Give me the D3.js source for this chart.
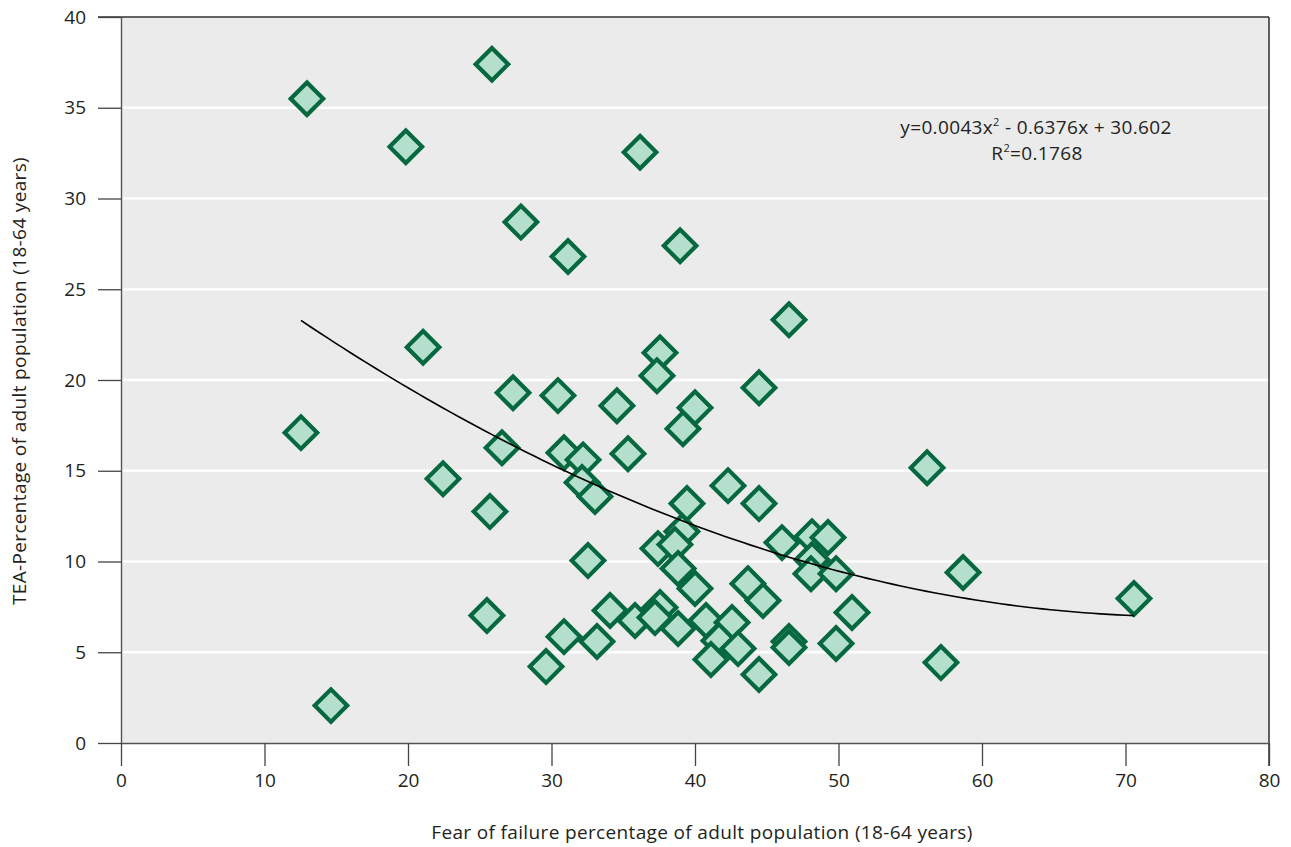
<!DOCTYPE html>
<html>
<head>
<meta charset="utf-8">
<script src="https://cdn.jsdelivr.net/npm/d3@7"></script>
<style>
  html, body { margin: 0; padding: 0; background: #ffffff; }
  svg { display: block; }
  text { font-family: "Open Sans", "Noto Sans", sans-serif; fill: #231f20; }
</style>
</head>
<body>
<svg id="chart" width="1291" height="847"></svg>
<script>
// Fear of failure rate (x) and TEA rate (y), one entry per country
const fearOfFailure = [
  12.96, 25.85, 19.85, 36.17, 27.87, 31.15, 38.96, 21.05, 46.55, 37.56,
  37.35, 27.32, 30.45, 44.46, 34.56, 40.0, 39.16, 12.54, 26.55, 30.87,
  32.2, 35.33, 56.17, 22.44, 32.13, 33.03, 42.3, 39.44, 44.46, 25.71,
  39.09, 48.15, 49.27, 46.06, 37.42, 38.6, 32.54, 48.15, 48.08, 49.83,
  38.82, 58.68, 40.0, 43.69, 44.74, 70.59, 25.5, 34.08, 37.56, 35.82,
  37.21, 38.82, 40.77, 42.58, 50.94, 30.87, 33.17, 41.67, 43.0, 46.55,
  46.55, 49.83, 41.11, 29.62, 57.14, 44.46, 14.63
];
const teaRate = [
  35.5, 37.4, 32.85, 32.55, 28.7, 26.8, 27.4, 21.8, 23.32, 21.5,
  20.24, 19.3, 19.14, 19.57, 18.58, 18.47, 17.32, 17.1, 16.27, 15.99,
  15.6, 15.94, 15.17, 14.56, 14.35, 13.58, 14.18, 13.19, 13.19, 12.75,
  11.65, 11.37, 11.32, 11.04, 10.71, 10.93, 10.05, 10.1, 9.33, 9.33,
  9.61, 9.39, 8.51, 8.78, 7.85, 7.96, 7.02, 7.3, 7.46, 6.75,
  6.91, 6.31, 6.75, 6.64, 7.19, 5.86, 5.59, 5.64, 5.2, 5.59,
  5.26, 5.48, 4.6, 4.21, 4.43, 3.77, 2.06
];

// Polynomial trend line: y = a*x^2 + b*x + c
const trendCoefficients = [0.0043, -0.6376, 30.602];
const rSquared = 0.1768;

const xTicks = [0, 10, 20, 30, 40, 50, 60, 70, 80];
const yTicks = [0, 5, 10, 15, 20, 25, 30, 35, 40];

const xTitle = "Fear of failure percentage of adult population (18-64 years)";
const yTitle = "TEA-Percentage of adult population (18-64 years)";

const FONT_SIZE = 19;
const LETTER_SPACING = 0.35;

const svg = d3.select("#chart");

const plot = { left: 121, right: 1269, top: 17, bottom: 743 };

const x = d3.scaleLinear().domain([0, 80]).range([plot.left, plot.right]);
const y = d3.scaleLinear().domain([0, 40]).range([plot.bottom, plot.top]);

// Plot background
svg.append("rect")
  .attr("x", plot.left).attr("y", plot.top)
  .attr("width", plot.right - plot.left)
  .attr("height", plot.bottom - plot.top)
  .attr("fill", "#ebebeb");

// Horizontal white gridlines
svg.append("g").selectAll("line")
  .data(yTicks.filter(t => t > 0 && t < 40))
  .join("line")
  .attr("x1", plot.left + 2).attr("x2", plot.right)
  .attr("y1", d => y(d)).attr("y2", d => y(d))
  .attr("stroke", "#ffffff").attr("stroke-width", 2.5);

// Top and right frame lines
svg.append("line")
  .attr("x1", plot.left - 23).attr("x2", plot.right)
  .attr("y1", plot.top).attr("y2", plot.top)
  .attr("stroke", "#333").attr("stroke-width", 1.4);
svg.append("line")
  .attr("x1", plot.right).attr("x2", plot.right)
  .attr("y1", plot.top).attr("y2", plot.bottom + 23)
  .attr("stroke", "#222").attr("stroke-width", 1.4);

// Axes
const yAxis = svg.append("g")
  .attr("transform", `translate(${plot.left},0)`)
  .call(d3.axisLeft(y).tickValues(yTicks).tickSize(23).tickSizeOuter(0).tickPadding(12));
const xAxis = svg.append("g")
  .attr("transform", `translate(0,${plot.bottom})`)
  .call(d3.axisBottom(x).tickValues(xTicks).tickSize(23).tickSizeOuter(0).tickPadding(8));

[yAxis, xAxis].forEach(g => {
  g.select(".domain").attr("stroke", "#555").attr("stroke-width", 1.4);
  g.selectAll(".tick line").attr("stroke", "#444").attr("stroke-width", 1.3);
  g.selectAll(".tick text")
    .attr("font-family", "'Open Sans', 'Noto Sans', sans-serif")
    .attr("font-size", FONT_SIZE).attr("fill", "#231f20");
});

// Scatter points as diamonds
const points = fearOfFailure.map((v, i) => ({ fx: v, tea: teaRate[i] }));
const diamond = d3.symbol().type(d3.symbolSquare).size(23 * 23);
svg.append("g").selectAll("path")
  .data(points)
  .join("path")
  .attr("d", diamond)
  .attr("transform", d => `translate(${x(d.fx)},${y(d.tea)}) rotate(45)`)
  .attr("fill", "#b3dfcc")
  .attr("stroke", "#05683f")
  .attr("stroke-width", 4.2)
  .attr("stroke-linejoin", "miter");

// Trend curve across the range of observed x values
const [a, b, c] = trendCoefficients;
const xExtent = d3.extent(fearOfFailure);
const curveXs = d3.range(0, 101).map(i => xExtent[0] + (xExtent[1] - xExtent[0]) * i / 100);
svg.append("path")
  .datum(curveXs)
  .attr("d", d3.line().x(v => x(v)).y(v => y(a * v * v + b * v + c)))
  .attr("fill", "none")
  .attr("stroke", "#000")
  .attr("stroke-width", 1.6);

// Trend equation
const eq = svg.append("text")
  .attr("x", 1036).attr("y", 134)
  .attr("text-anchor", "middle")
  .attr("font-size", FONT_SIZE)
  .attr("letter-spacing", LETTER_SPACING);
eq.append("tspan").text(`y=${a}x`);
eq.append("tspan").attr("dy", -8).attr("font-size", 11).text("2");
eq.append("tspan").attr("dy", 8).text(` - ${Math.abs(b)}x + ${c}`);

const r2 = svg.append("text")
  .attr("x", 1037).attr("y", 160)
  .attr("text-anchor", "middle")
  .attr("font-size", FONT_SIZE)
  .attr("letter-spacing", LETTER_SPACING);
r2.append("tspan").text("R");
r2.append("tspan").attr("dy", -8).attr("font-size", 11).text("2");
r2.append("tspan").attr("dy", 8).text(`=${rSquared}`);

// Axis titles
svg.append("text")
  .attr("x", 702).attr("y", 839)
  .attr("text-anchor", "middle")
  .attr("font-size", FONT_SIZE)
  .attr("letter-spacing", LETTER_SPACING)
  .text(xTitle);
svg.append("text")
  .attr("transform", "translate(26,381) rotate(-90)")
  .attr("text-anchor", "middle")
  .attr("font-size", FONT_SIZE)
  .attr("letter-spacing", LETTER_SPACING)
  .text(yTitle);
</script>
</body>
</html>
